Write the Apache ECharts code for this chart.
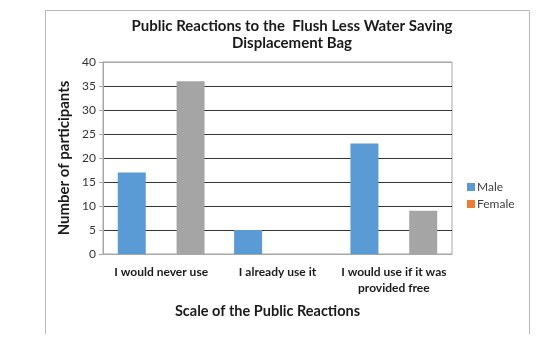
<!DOCTYPE html>
<html><head><meta charset="utf-8">
<script src="https://cdn.jsdelivr.net/npm/echarts@6/dist/echarts.min.js"></script>
<style>html,body{margin:0;padding:0;background:#fff}#c{width:545px;height:346px}</style>
</head><body><div id="c"></div>
<script>
const categories = ['I would never use', 'I already use it', 'I would use if it was\nprovided free'];
const male = [17, 5, 23];
const female = [0, 0, 0];
const series3 = [36, 0, 9];
const yTicks = [0, 5, 10, 15, 20, 25, 30, 35, 40];

const chart = echarts.init(document.getElementById('c'), null, {renderer: 'canvas'});
const FONT = 'Lato';
chart.setOption({
  animation: false,
  backgroundColor: '#fff',
  title: {
    text: 'Public Reactions to the  Flush Less Water Saving\nDisplacement Bag',
    left: 287, top: 13, textAlign: 'center',
    textStyle: {fontFamily: FONT, fontWeight: 'bold', fontSize: 15, color: '#1a1a1a', lineHeight: 17}
  },
  legend: {
    data: ['Male', 'Female'], orient: 'vertical', left: 462, top: 176,
    itemWidth: 8, itemHeight: 8, itemGap: 5, icon: 'rect',
    textStyle: {fontFamily: FONT, fontSize: 12, color: '#404040', padding: [0, 0, 0, -3]}
  },
  grid: {left: 103, right: 93, top: 62, bottom: 92, show: true, borderColor: '#a6a6a6', borderWidth: 1},
  xAxis: {
    type: 'category', data: categories,
    axisLine: {lineStyle: {color: '#a6a6a6'}},
    axisTick: {show: false},
    axisLabel: {interval: 0, fontFamily: FONT, fontWeight: 'bold', fontSize: 12, color: '#1a1a1a', margin: 10, lineHeight: 16},
    name: 'Scale of the Public Reactions', nameLocation: 'middle', nameGap: 50,
    nameTextStyle: {fontFamily: FONT, fontWeight: 'bold', fontSize: 14.5, color: '#1a1a1a', padding: [0, 20, 0, 0]}
  },
  yAxis: {
    type: 'value', min: 0, max: 40, interval: 5,
    axisLine: {show: true, lineStyle: {color: '#a6a6a6'}},
    axisTick: {show: true, length: 4, lineStyle: {color: '#a6a6a6'}},
    axisLabel: {fontFamily: FONT, fontSize: 12, color: '#333', margin: 7},
    splitLine: {lineStyle: {color: ['#a6a6a6', '#333', '#333', '#333', '#333', '#333', '#333', '#333', '#a6a6a6'], width: 1}},
    name: 'Number of participants', nameLocation: 'middle', nameGap: 20, nameRotate: 90,
    nameTextStyle: {fontFamily: FONT, fontWeight: 'bold', fontSize: 15, color: '#1a1a1a'}
  },
  series: [
    {name: 'Male', type: 'bar', data: male, barWidth: 28, barGap: '5%', itemStyle: {color: '#5B9BD5'}},
    {name: 'Female', type: 'bar', data: female, barWidth: 28, barGap: '5%', itemStyle: {color: '#ED7D31'}},
    {name: 'Series 3', type: 'bar', data: series3, barWidth: 28, barGap: '5%', itemStyle: {color: '#A5A5A5'}}
  ],
  graphic: [{
    type: 'polyline', silent: true,
    shape: {points: [[45.5, 334], [45.5, 10.5], [529.5, 10.5], [529.5, 334]]},
    style: {stroke: '#b8b8b8', lineWidth: 1, fill: null}
  }]
});
</script></body></html>
